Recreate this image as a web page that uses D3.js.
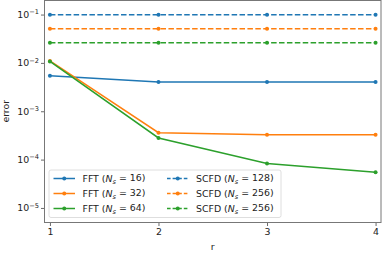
<!DOCTYPE html>
<html><head><meta charset="utf-8">
<script src="https://cdn.jsdelivr.net/npm/d3@7"></script>
<style>body{margin:0;background:#fff}svg{display:block}text{font-family:"DejaVu Sans",sans-serif;fill:#222}</style>
</head><body>
<script>
const rValues = [1, 2, 3, 4];
const fft16 = [5.4e-3, 4.05e-3, 4.05e-3, 4.05e-3];
const fft32 = [1.1e-2, 3.6e-4, 3.25e-4, 3.25e-4];
const fft64 = [1.07e-2, 2.8e-4, 8.3e-5, 5.5e-5];
const scfd128 = [0.099, 0.099, 0.099, 0.099];
const scfd256a = [0.051, 0.051, 0.051, 0.051];
const scfd256b = [0.026, 0.026, 0.026, 0.026];
const seriesNames = ["FFT", "FFT", "FFT", "SCFD", "SCFD", "SCFD"];
const seriesNs = ["16", "32", "64", "128", "256", "256"];
const yTickExps = [-1, -2, -3, -4, -5];
const xTicks = [1, 2, 3, 4];

const W = 382, H = 254;
const colors = ["#1f77b4", "#ff7f0e", "#2ca02c"];
const series = [
  {vals: fft16, c: colors[0], dash: null},
  {vals: fft32, c: colors[1], dash: null},
  {vals: fft64, c: colors[2], dash: null},
  {vals: scfd128, c: colors[0], dash: "5.5,2.4"},
  {vals: scfd256a, c: colors[1], dash: "5.5,2.4"},
  {vals: scfd256b, c: colors[2], dash: "5.5,2.4"}
];
const FS = "9.4px", FSS = "6.6px";

const svg = d3.select("body").append("svg").attr("width", W).attr("height", H);
const L = 44.5, R = 381, T = 0, B = 222.5;
const x = d3.scaleLinear().domain([0.95, 4.05]).range([L, R]);
const y = d3.scaleLog().domain([5e-6, 0.2]).range([B, T]);

// axes
const gx = svg.append("g").attr("transform", `translate(0,${B})`)
  .call(d3.axisBottom(x).tickValues(xTicks).tickSize(3.5).tickPadding(2.5).tickFormat(d3.format("d")));
const gy = svg.append("g").attr("transform", `translate(${L},0)`)
  .call(d3.axisLeft(y).tickValues(yTickExps.map(e => Math.pow(10, e))).tickSize(3.5).tickPadding(3).tickFormat(() => ""));
[gx, gy].forEach(g => {
  g.select(".domain").remove();
  g.selectAll(".tick line").attr("stroke", "#444").attr("stroke-width", 0.8);
  g.selectAll("text").style("font-size", FS).attr("fill", "#222");
});
gy.selectAll(".tick").each(function(d, i) {
  const t = d3.select(this).select("text").attr("x", -5.5).attr("dy", "0.32em");
  t.append("tspan").text("10");
  t.append("tspan").attr("dy", "-0.55em").style("font-size", FSS).text("\u2212" + (-yTickExps[i]));
});

// frame
svg.append("rect").attr("x", L).attr("y", T + 0.5).attr("width", R - L).attr("height", B - T - 0.5)
  .attr("fill", "none").attr("stroke", "#777").attr("stroke-width", 1);

// lines
const line = d3.line().x((d, i) => x(rValues[i])).y(d => y(d));
series.forEach(s => {
  svg.append("path").datum(s.vals).attr("d", line).attr("fill", "none")
    .attr("stroke", s.c).attr("stroke-width", 1.5).attr("stroke-dasharray", s.dash);
  svg.selectAll(null).data(s.vals).enter().append("circle")
    .attr("cx", (d, i) => x(rValues[i])).attr("cy", d => y(d)).attr("r", 2).attr("fill", s.c);
});

// labels
svg.append("text").attr("x", (L + R) / 2).attr("y", 249.5).attr("text-anchor", "middle").style("font-size", FS).text("r");
svg.append("text").attr("transform", `translate(9,${(T + B) / 2}) rotate(-90)`).attr("text-anchor", "middle").style("font-size", FS).text("error");

// legend
const lg = svg.append("g");
lg.append("rect").attr("x", 49).attr("y", 170).attr("width", 232).attr("height", 47.5).attr("rx", 2)
  .attr("fill", "#fff").attr("fill-opacity", 0.8).attr("stroke", "#d5d5d5").attr("stroke-width", 0.8);
series.forEach((s, i) => {
  const col = Math.floor(i / 3), row = i % 3;
  const x0 = col === 0 ? 53.5 : 167, ty = 178.5 + row * 15;
  lg.append("line").attr("x1", x0).attr("x2", x0 + 21.5).attr("y1", ty).attr("y2", ty)
    .attr("stroke", s.c).attr("stroke-width", 1.5).attr("stroke-dasharray", s.dash ? "3.6,2" : null);
  lg.append("circle").attr("cx", x0 + 10.75).attr("cy", ty).attr("r", 2).attr("fill", s.c);
  const t = lg.append("text").attr("x", x0 + 29).attr("y", ty).attr("dy", "0.35em").style("font-size", FS);
  t.append("tspan").text(seriesNames[i] + " (");
  t.append("tspan").style("font-style", "italic").text("N");
  t.append("tspan").attr("dy", "0.3em").style("font-size", FSS).style("font-style", "italic").text("s");
  t.append("tspan").attr("dy", "-0.3em").text(" = " + seriesNs[i] + ")");
});
</script>
</body></html>
